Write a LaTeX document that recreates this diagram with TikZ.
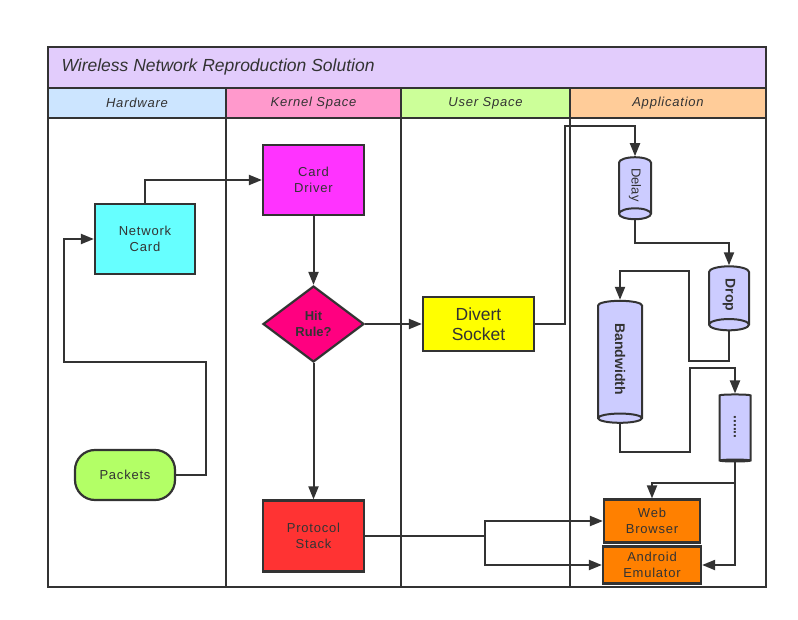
\documentclass[tikz,border=0pt]{standalone}
\usepackage{fontspec}
\setmainfont{Liberation Sans}
\newfontfamily\espaciada{Liberation Sans}[LetterSpace=6]
\usepackage{tikz}
\usetikzlibrary{arrows.meta,shapes,calc,positioning}
\definecolor{grisOscuro}{RGB}{51, 51, 51}
\definecolor{lavanda}{RGB}{226, 204, 252}
\definecolor{celeste}{RGB}{204, 229, 255}
\definecolor{rosa}{RGB}{255, 153, 204}
\definecolor{verdeClaro}{RGB}{204, 255, 153}
\definecolor{naranjaClaro}{RGB}{255, 204, 153}
\definecolor{cian}{RGB}{102, 255, 255}
\definecolor{lima}{RGB}{179, 255, 102}
\definecolor{fucsia}{RGB}{255, 51, 255}
\definecolor{rosaFuerte}{RGB}{255, 0, 128}
\definecolor{amarillo}{RGB}{255, 255, 0}
\definecolor{rojo}{RGB}{255, 51, 51}
\definecolor{lila}{RGB}{204, 204, 255}
\definecolor{naranja}{RGB}{255, 128, 0}
\tikzstyle{edge}  =[draw=grisOscuro, line width=2pt,
                    >={Triangle[length=13pt,width=10pt]}]
\tikzstyle{marco} =[draw=grisOscuro, line width=2pt]
\tikzstyle{caja}  =[rectangle, draw=grisOscuro, line width=2.2pt,
                    inner sep=0pt, align=center, text=grisOscuro,
                    font=\espaciada\fontsize{13}{16}\selectfont]
\tikzstyle{tambor}=[cylinder, draw=grisOscuro, line width=2pt,
                    fill=lila, rotate=-90, aspect=0.9, inner sep=0pt,
                    text=grisOscuro,
                    font=\bfseries\fontsize{14}{16}\selectfont]
\tikzstyle{carril}=[draw=grisOscuro, line width=2pt, text=grisOscuro,
                    font=\itshape\espaciada\fontsize{13}{15}\selectfont]

\begin{document}
\begin{tikzpicture}[x=1pt,y=-1pt]
    \useasboundingbox (0,0) rectangle (798,620);

    % title and lanes
    \draw [marco,fill=lavanda] (48,47) rectangle (766,88);
    \draw (58,67) node (titulo) [anchor=west,text=grisOscuro,
        font=\itshape\fontsize{17.5}{20}\selectfont]
        {Wireless Network Reproduction Solution};
    \draw [carril,fill=celeste] (48,88) rectangle (226,118)
        node (hw) [midway,draw=none] {Hardware};
    \draw [carril,fill=rosa] (226,88) rectangle (401,118)
        node (ks) [midway,draw=none] {Kernel Space};
    \draw [carril,fill=verdeClaro] (401,88) rectangle (570,118)
        node (us) [midway,draw=none] {User Space};
    \draw [carril,fill=naranjaClaro] (570,88) rectangle (766,118)
        node (ap) [midway,draw=none] {Application};
    \foreach \x in {226,401,570}
        \draw [marco] (\x,118) -- (\x,587);
    \draw [marco] (48,47) rectangle (766,587);

    % nodes
    \draw (145,239) node (nc) [caja,fill=cian,minimum width=100pt,minimum height=70pt] {Network\\Card};
    \draw (125,475) node (pk) [caja,fill=lima,rounded corners=20pt,minimum width=100pt,minimum height=50pt] {Packets};
    \draw (313.5,180) node (cd) [caja,fill=fucsia,minimum width=101pt,minimum height=70pt] {Card\\Driver};
    \draw (313.5,324) node (hr) [caja,diamond,fill=rosaFuerte,minimum width=101pt,minimum height=76pt,
        font=\bfseries\fontsize{13}{16}\selectfont] {Hit\\Rule?};
    \draw (478.5,324) node (ds) [caja,fill=amarillo,minimum width=111pt,minimum height=54pt,
        font=\fontsize{17.5}{20}\selectfont] {Divert\\Socket};
    \draw (313.5,536) node (ps) [caja,fill=rojo,minimum width=101pt,minimum height=71pt] {Protocol\\Stack};

    \draw (635,185) node (dl) [tambor,minimum height=62pt,minimum width=32pt,
        font=\fontsize{13}{15}\selectfont] {Delay};
    \draw (729,295) node (dr) [tambor,minimum height=64pt,minimum width=40pt] {Drop};
    \draw (620,359) node (bw) [tambor,minimum height=122pt,minimum width=44pt] {Bandwidth};
    \draw (735,427) node (dt) [tambor,minimum height=67pt,minimum width=31pt] {......};

    \draw (652,521) node (wb) [caja,fill=naranja,minimum width=96pt,minimum height=43pt] {Web\\Browser};
    \draw (652,565) node (ae) [caja,fill=naranja,minimum width=98pt,minimum height=37pt] {Android\\Emulator};

    % straight connectors
    \foreach \i/\j in {cd/hr,hr/ds,hr/ps}
        \draw [edge,->] (\i) to (\j);

    % routed connectors (west/east of a drum = its top/bottom)
    \draw [edge,->] (pk.east) -| ++(30,-113) -| ($(nc.west)+(-30,0)$) -- (nc.west);
    \draw [edge,->] (nc.north) |- (cd.west);
    \draw [edge,->] (ds.east) -- ++(30,0) |- ($(dl.west)+(0,-30)$) -- (dl.west);
    \draw [edge,->] (dl.east) -- ++(0,23) -| (dr.west);
    \draw [edge,->] (dr.east) -- ++(0,30) -| ++(-40,-90) -| (bw.west);
    \draw [edge,->] (bw.east) -- ++(0,28) -| ++(70,-84) -| (dt.west);
    \draw [edge,->] (dt.east) -- ++(0,21) -| (wb.north);
    \draw [edge,->] (dt.east) |- (ae.east);
    \foreach \j in {wb,ae}
        \draw [edge,->] (ps.east) -- ++(120,0) |- (\j.west);

\end{tikzpicture}
\end{document}
